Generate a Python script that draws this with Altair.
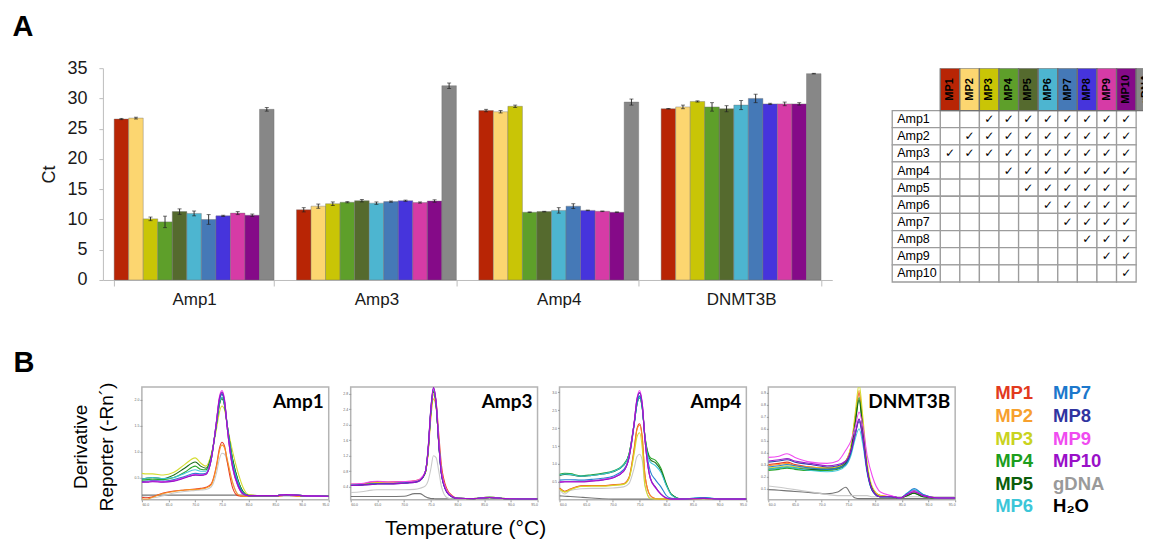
import altair as alt
import pandas as pd

# ---------------- Panel A : Ct bar chart ----------------
amplicons = ["Amp1", "Amp3", "Amp4", "DNMT3B"]
samples = ["MP1", "MP2", "MP3", "MP4", "MP5", "MP6", "MP7", "MP8", "MP9", "MP10", "gDNA"]
bar_colors = ["#B82505", "#FCD670", "#C9C506", "#5E9F2A", "#556A2E", "#4DB5D0",
              "#4579B7", "#4634DC", "#D63BA6", "#850A88", "#878787"]

ct_amp1 = [26.6, 26.75, 10.1, 9.6, 11.3, 11.0, 10.0, 10.6, 11.05, 10.7, 28.2]
err_amp1 = [0.1, 0.15, 0.3, 0.95, 0.45, 0.4, 0.8, 0.1, 0.25, 0.2, 0.3]
ct_amp3 = [11.6, 12.2, 12.6, 12.85, 13.1, 12.7, 12.95, 13.1, 12.8, 13.05, 32.1]
err_amp3 = [0.35, 0.35, 0.3, 0.1, 0.2, 0.2, 0.1, 0.1, 0.1, 0.2, 0.45]
ct_amp4 = [28.0, 27.8, 28.7, 11.2, 11.3, 11.5, 12.2, 11.5, 11.35, 11.2, 29.4]
err_amp4 = [0.2, 0.2, 0.2, 0.05, 0.05, 0.45, 0.4, 0.05, 0.05, 0.05, 0.5]
ct_dnmt3b = [28.3, 28.6, 29.5, 28.6, 28.3, 28.9, 30.0, 29.1, 29.1, 29.1, 34.1]
err_dnmt3b = [0.05, 0.3, 0.1, 0.7, 0.5, 0.75, 0.7, 0.1, 0.3, 0.2, 0.05]

# ---------------- Panel A : primer table ----------------
table_rows = ["Amp1", "Amp2", "Amp3", "Amp4", "Amp5", "Amp6", "Amp7", "Amp8", "Amp9", "Amp10"]
check_first = [3, 2, 1, 4, 5, 6, 7, 8, 9, 10]   # first MP pool containing each amplicon

# ---------------- Panel B : melt curves ----------------
melt_series = ["H2O", "gDNA", "MP1", "MP2", "MP3", "MP4", "MP5", "MP6", "MP7", "MP8", "MP9", "MP10"]
melt_colors = ["#6E6E6E", "#C6C6C6", "#E8341C", "#F79420", "#D2DA26", "#1FA21F", "#0B620B",
               "#3CC6D8", "#1E7BD0", "#2F3AA6", "#F040F0", "#9A10C8"]
temp_ticks = [60, 65, 70, 75, 80, 85, 90, 95]

t_amp1 = [60, 61, 62, 64, 66, 68, 70, 71, 72, 73, 74, 74.5, 75, 75.5, 76, 77, 78, 79, 80, 82, 85, 87, 90, 95]
amp1_h2o = [0.16, 0.16, 0.16, 0.16, 0.16, 0.16, 0.16, 0.16, 0.16, 0.16, 0.16, 0.16, 0.16, 0.16, 0.16, 0.16, 0.16, 0.16, 0.16, 0.15, 0.15, 0.15, 0.15, 0.15]
amp1_gdna = [0.13, 0.12, 0.11, 0.15, 0.20, 0.23, 0.25, 0.26, 0.27, 0.32, 0.60, 0.85, 0.97, 0.95, 0.80, 0.40, 0.18, 0.14, 0.14, 0.14, 0.14, 0.15, 0.14, 0.14]
amp1_mp1 = [0.12, 0.11, 0.13, 0.20, 0.24, 0.26, 0.28, 0.29, 0.31, 0.38, 0.75, 1.05, 1.18, 1.10, 0.80, 0.30, 0.15, 0.14, 0.14, 0.14, 0.14, 0.16, 0.14, 0.14]
amp1_mp2 = [0.09, 0.08, 0.12, 0.19, 0.23, 0.26, 0.27, 0.28, 0.30, 0.36, 0.72, 1.00, 1.13, 1.07, 0.85, 0.40, 0.17, 0.14, 0.14, 0.14, 0.14, 0.16, 0.14, 0.14]
amp1_mp3 = [0.58, 0.57, 0.57, 0.55, 0.60, 0.75, 0.88, 0.78, 0.72, 0.95, 1.45, 1.75, 1.88, 1.80, 1.50, 1.00, 0.60, 0.30, 0.17, 0.15, 0.15, 0.17, 0.15, 0.15]
amp1_mp4 = [0.45, 0.46, 0.47, 0.46, 0.50, 0.60, 0.72, 0.66, 0.65, 0.90, 1.55, 1.90, 2.05, 1.90, 1.50, 0.85, 0.45, 0.22, 0.15, 0.15, 0.15, 0.17, 0.15, 0.14]
amp1_mp5 = [0.47, 0.49, 0.50, 0.48, 0.55, 0.68, 0.80, 0.72, 0.68, 0.92, 1.55, 1.90, 2.02, 1.88, 1.50, 0.85, 0.45, 0.22, 0.15, 0.15, 0.15, 0.17, 0.15, 0.14]
amp1_mp6 = [0.47, 0.49, 0.50, 0.48, 0.50, 0.58, 0.65, 0.62, 0.62, 0.88, 1.55, 1.92, 2.05, 1.90, 1.50, 0.80, 0.42, 0.20, 0.15, 0.15, 0.15, 0.17, 0.15, 0.14]
amp1_mp7 = [0.42, 0.43, 0.44, 0.43, 0.46, 0.52, 0.58, 0.57, 0.58, 0.85, 1.60, 1.98, 2.10, 1.95, 1.50, 0.75, 0.38, 0.20, 0.15, 0.15, 0.15, 0.17, 0.15, 0.14]
amp1_mp8 = [0.42, 0.42, 0.43, 0.42, 0.44, 0.50, 0.55, 0.55, 0.57, 0.85, 1.60, 2.00, 2.12, 1.95, 1.45, 0.70, 0.35, 0.18, 0.15, 0.15, 0.15, 0.17, 0.15, 0.14]
amp1_mp9 = [0.41, 0.42, 0.43, 0.42, 0.44, 0.50, 0.56, 0.55, 0.57, 0.86, 1.62, 2.05, 2.18, 2.00, 1.45, 0.68, 0.33, 0.18, 0.15, 0.15, 0.15, 0.17, 0.15, 0.14]
amp1_mp10 = [0.41, 0.41, 0.42, 0.41, 0.43, 0.49, 0.55, 0.54, 0.56, 0.85, 1.60, 2.02, 2.15, 1.98, 1.45, 0.70, 0.34, 0.18, 0.15, 0.15, 0.15, 0.17, 0.15, 0.14]

t_amp3 = [60, 62, 64, 65, 67, 70, 72, 73, 74, 74.5, 75, 75.5, 76, 76.5, 77, 78, 79, 80, 83, 86, 89, 95]
amp3_h2o = [0.145, 0.145, 0.145, 0.145, 0.145, 0.15, 0.22, 0.22, 0.14, 0.11, 0.095, 0.09, 0.085, 0.085, 0.085, 0.085, 0.085, 0.085, 0.085, 0.085, 0.085, 0.085]
amp3_gdna = [0.25, 0.27, 0.31, 0.32, 0.32, 0.32, 0.33, 0.36, 0.42, 0.55, 0.85, 1.20, 1.15, 0.80, 0.40, 0.12, 0.08, 0.08, 0.08, 0.08, 0.08, 0.08]
amp3_mp1 = [0.46, 0.47, 0.52, 0.53, 0.52, 0.53, 0.55, 0.59, 0.78, 1.30, 2.30, 2.85, 2.60, 1.75, 0.95, 0.35, 0.17, 0.10, 0.09, 0.13, 0.09, 0.08]
amp3_mp2 = [0.45, 0.46, 0.50, 0.51, 0.50, 0.52, 0.54, 0.58, 0.76, 1.25, 2.15, 2.67, 2.45, 1.55, 0.80, 0.30, 0.15, 0.10, 0.09, 0.12, 0.09, 0.08]
amp3_mp3 = [0.46, 0.46, 0.49, 0.50, 0.50, 0.52, 0.54, 0.58, 0.78, 1.30, 2.25, 2.78, 2.50, 1.55, 0.78, 0.30, 0.15, 0.10, 0.09, 0.13, 0.09, 0.08]
amp3_mp4 = [0.44, 0.45, 0.47, 0.48, 0.48, 0.50, 0.52, 0.57, 0.78, 1.32, 2.30, 2.85, 2.52, 1.55, 0.76, 0.28, 0.14, 0.10, 0.09, 0.12, 0.09, 0.08]
amp3_mp5 = [0.44, 0.45, 0.47, 0.48, 0.48, 0.50, 0.52, 0.57, 0.78, 1.32, 2.32, 2.88, 2.52, 1.52, 0.74, 0.27, 0.14, 0.10, 0.09, 0.12, 0.09, 0.08]
amp3_mp6 = [0.45, 0.45, 0.47, 0.48, 0.48, 0.50, 0.52, 0.57, 0.79, 1.34, 2.33, 2.90, 2.55, 1.55, 0.75, 0.27, 0.14, 0.10, 0.09, 0.13, 0.09, 0.08]
amp3_mp7 = [0.44, 0.45, 0.47, 0.48, 0.48, 0.50, 0.52, 0.57, 0.79, 1.35, 2.35, 2.92, 2.55, 1.52, 0.73, 0.26, 0.14, 0.10, 0.09, 0.12, 0.09, 0.08]
amp3_mp8 = [0.43, 0.44, 0.46, 0.47, 0.47, 0.49, 0.51, 0.56, 0.80, 1.37, 2.38, 2.95, 2.55, 1.50, 0.72, 0.26, 0.14, 0.10, 0.09, 0.12, 0.09, 0.08]
amp3_mp9 = [0.47, 0.48, 0.53, 0.54, 0.52, 0.53, 0.55, 0.60, 0.80, 1.36, 2.36, 2.93, 2.60, 1.60, 0.80, 0.30, 0.15, 0.10, 0.09, 0.12, 0.09, 0.08]
amp3_mp10 = [0.43, 0.44, 0.46, 0.47, 0.47, 0.49, 0.51, 0.56, 0.80, 1.38, 2.40, 2.97, 2.58, 1.52, 0.72, 0.26, 0.14, 0.10, 0.09, 0.12, 0.09, 0.08]

t_amp4 = [60, 61, 62, 64, 66, 68, 70, 72, 73, 74, 74.5, 75, 75.5, 76, 77, 78, 79, 80, 81, 83, 87, 90, 95]
amp4_h2o = [0.11, 0.10, 0.09, 0.07, 0.05, 0.03, 0.02, 0.02, 0.02, 0.02, 0.02, 0.02, 0.02, 0.02, 0.02, 0.02, 0.02, 0.02, 0.02, 0.02, 0.02, 0.02, 0.02]
amp4_gdna = [0.28, 0.16, 0.26, 0.31, 0.32, 0.32, 0.33, 0.36, 0.45, 0.90, 1.20, 1.27, 1.10, 0.40, 0.05, 0.02, 0.02, 0.02, 0.02, 0.02, 0.02, 0.02, 0.02]
amp4_mp1 = [0.33, 0.24, 0.30, 0.39, 0.40, 0.40, 0.42, 0.45, 0.62, 1.45, 1.98, 2.12, 1.75, 0.70, 0.12, 0.03, 0.02, 0.02, 0.02, 0.02, 0.04, 0.02, 0.02]
amp4_mp2 = [0.32, 0.22, 0.29, 0.38, 0.39, 0.39, 0.41, 0.44, 0.60, 1.40, 1.95, 2.08, 1.72, 0.68, 0.12, 0.03, 0.02, 0.02, 0.02, 0.02, 0.04, 0.02, 0.02]
amp4_mp3 = [0.30, 0.22, 0.28, 0.37, 0.38, 0.38, 0.40, 0.43, 0.58, 1.30, 1.75, 1.87, 1.45, 0.40, 0.03, 0.02, 0.02, 0.02, 0.02, 0.02, 0.03, 0.02, 0.02]
amp4_mp4 = [0.71, 0.74, 0.73, 0.67, 0.70, 0.74, 0.80, 0.99, 1.27, 2.15, 2.65, 2.84, 2.55, 1.78, 1.18, 1.10, 0.88, 0.45, 0.15, 0.02, 0.05, 0.02, 0.02]
amp4_mp5 = [0.68, 0.71, 0.70, 0.65, 0.68, 0.72, 0.78, 0.96, 1.25, 2.15, 2.68, 2.88, 2.58, 1.78, 1.12, 1.03, 0.82, 0.42, 0.14, 0.02, 0.05, 0.02, 0.02]
amp4_mp6 = [0.69, 0.72, 0.71, 0.66, 0.68, 0.72, 0.79, 0.97, 1.24, 2.12, 2.65, 2.86, 2.56, 1.75, 1.05, 0.95, 0.76, 0.40, 0.13, 0.02, 0.06, 0.02, 0.02]
amp4_mp7 = [0.55, 0.56, 0.56, 0.55, 0.57, 0.60, 0.66, 0.84, 1.15, 2.10, 2.70, 2.90, 2.60, 1.72, 0.80, 0.55, 0.36, 0.12, 0.04, 0.02, 0.06, 0.02, 0.02]
amp4_mp8 = [0.50, 0.51, 0.51, 0.51, 0.53, 0.56, 0.62, 0.80, 1.18, 2.15, 2.78, 2.98, 2.65, 1.70, 0.62, 0.35, 0.16, 0.05, 0.02, 0.02, 0.04, 0.02, 0.02]
amp4_mp9 = [0.50, 0.51, 0.51, 0.51, 0.53, 0.56, 0.62, 0.80, 1.18, 2.18, 2.82, 3.05, 2.70, 1.72, 0.60, 0.33, 0.15, 0.05, 0.02, 0.02, 0.04, 0.02, 0.02]
amp4_mp10 = [0.49, 0.50, 0.50, 0.50, 0.52, 0.55, 0.61, 0.79, 1.17, 2.16, 2.80, 3.00, 2.68, 1.70, 0.60, 0.34, 0.16, 0.05, 0.02, 0.02, 0.04, 0.02, 0.02]

t_dnmt = [60, 62, 63.5, 65, 68, 71, 73, 74.5, 75.5, 76.3, 77, 77.7, 78.5, 79.5, 81, 83, 84.7, 86, 87.3, 89, 92, 95]
dnmt_h2o = [0.09, 0.085, 0.08, 0.075, 0.065, 0.055, 0.07, 0.11, 0.05, 0.02, 0.015, 0.015, 0.015, 0.015, 0.015, 0.015, 0.015, 0.015, 0.015, 0.015, 0.015, 0.015]
dnmt_gdna = [0.12, 0.11, 0.10, 0.09, 0.07, 0.05, 0.04, 0.04, 0.04, 0.04, 0.04, 0.04, 0.04, 0.03, 0.03, 0.03, 0.03, 0.03, 0.03, 0.03, 0.03, 0.03]
dnmt_mp1 = [0.30, 0.31, 0.32, 0.30, 0.28, 0.27, 0.28, 0.33, 0.45, 0.70, 0.90, 0.62, 0.28, 0.10, 0.04, 0.03, 0.02, 0.05, 0.08, 0.04, 0.02, 0.02]
dnmt_mp2 = [0.29, 0.30, 0.31, 0.29, 0.28, 0.27, 0.28, 0.32, 0.44, 0.70, 0.92, 0.65, 0.29, 0.10, 0.04, 0.03, 0.02, 0.05, 0.07, 0.04, 0.02, 0.02]
dnmt_mp3 = [0.27, 0.28, 0.29, 0.28, 0.27, 0.27, 0.28, 0.33, 0.46, 0.74, 0.97, 0.70, 0.32, 0.11, 0.04, 0.03, 0.02, 0.04, 0.07, 0.04, 0.02, 0.02]
dnmt_mp4 = [0.25, 0.26, 0.27, 0.26, 0.25, 0.25, 0.26, 0.30, 0.42, 0.66, 0.86, 0.60, 0.27, 0.09, 0.03, 0.03, 0.02, 0.04, 0.06, 0.03, 0.02, 0.02]
dnmt_mp5 = [0.26, 0.27, 0.28, 0.27, 0.26, 0.26, 0.27, 0.31, 0.42, 0.65, 0.84, 0.58, 0.26, 0.09, 0.03, 0.03, 0.02, 0.04, 0.06, 0.03, 0.02, 0.02]
dnmt_mp6 = [0.26, 0.27, 0.28, 0.27, 0.25, 0.24, 0.25, 0.29, 0.38, 0.52, 0.60, 0.47, 0.23, 0.08, 0.03, 0.03, 0.02, 0.06, 0.09, 0.05, 0.02, 0.02]
dnmt_mp7 = [0.28, 0.29, 0.30, 0.29, 0.27, 0.26, 0.27, 0.30, 0.40, 0.56, 0.68, 0.52, 0.25, 0.08, 0.03, 0.03, 0.02, 0.06, 0.10, 0.05, 0.02, 0.02]
dnmt_mp8 = [0.32, 0.33, 0.34, 0.32, 0.30, 0.28, 0.29, 0.32, 0.41, 0.56, 0.66, 0.52, 0.25, 0.08, 0.03, 0.03, 0.02, 0.05, 0.08, 0.04, 0.02, 0.02]
dnmt_mp9 = [0.36, 0.37, 0.39, 0.36, 0.32, 0.31, 0.33, 0.42, 0.50, 0.62, 0.74, 0.62, 0.38, 0.20, 0.07, 0.04, 0.02, 0.05, 0.08, 0.04, 0.02, 0.02]
dnmt_mp10 = [0.33, 0.34, 0.35, 0.33, 0.31, 0.29, 0.30, 0.33, 0.42, 0.56, 0.68, 0.54, 0.26, 0.09, 0.03, 0.03, 0.02, 0.05, 0.07, 0.04, 0.02, 0.02]

legend_labels = ["MP1", "MP2", "MP3", "MP4", "MP5", "MP6", "MP7", "MP8", "MP9", "MP10", "gDNA", "H₂O"]
legend_colors = ["#E23A1E", "#F7A02E", "#C9D320", "#1D9E1D", "#0B5E0B", "#3CC6D8",
                 "#1C78CC", "#3034A0", "#F04CF0", "#9A10C8", "#9A9A9A", "#000000"]

FONT = "Liberation Sans"

# ======================= Panel A bar chart =======================
bar_color_of = dict(zip(samples, bar_colors))
bar_rows = []
for amp, cts, errs in zip(amplicons, [ct_amp1, ct_amp3, ct_amp4, ct_dnmt3b],
                          [err_amp1, err_amp3, err_amp4, err_dnmt3b]):
    for s, c, e in zip(samples, cts, errs):
        bar_rows.append({"amp": amp, "s": s, "ct": c, "lo": c - e, "hi": c + e, "col": bar_color_of[s]})
bar_df = pd.DataFrame(bar_rows)

ysc = alt.Scale(domain=[0, 35], nice=False)
xsc = alt.Scale(paddingInner=0.123, paddingOuter=0.0616)
xo = alt.XOffset("s:N", sort=samples, scale=alt.Scale(paddingInner=0, paddingOuter=0))
x_axis = alt.Axis(title=None, labelAngle=0, tickBand="extent", labelFontSize=17,
                  labelFont=FONT, labelColor="#1a1a1a", tickSize=6, tickColor="#BDBDBD",
                  domainColor="#BDBDBD", labelPadding=6)
y_axis = alt.Axis(title="Ct", values=list(range(0, 36, 5)), grid=False, labelFontSize=18,
                  labelFont=FONT, labelColor="#1a1a1a", tickSize=4, tickColor="#BDBDBD",
                  domainColor="#BDBDBD", labelPadding=12, titleFont=FONT, titleFontSize=18,
                  titleFontWeight="normal", titleColor="#1a1a1a", titlePadding=8)
X = alt.X("amp:N", sort=amplicons, scale=xsc, axis=x_axis)

bars = alt.Chart(bar_df).mark_bar(stroke="#707070", strokeWidth=0.4).encode(
    x=X, xOffset=xo,
    y=alt.Y("ct:Q", scale=ysc, axis=y_axis),
    color=alt.Color("col:N", scale=None),
)
err_rule = alt.Chart(bar_df).mark_rule(color="#222", strokeWidth=0.9).encode(
    x=X, xOffset=xo, y=alt.Y("lo:Q", scale=ysc, axis=y_axis), y2="hi:Q")
cap_lo = alt.Chart(bar_df).mark_tick(color="#222", size=4, thickness=0.9).encode(
    x=X, xOffset=xo, y=alt.Y("lo:Q", scale=ysc, axis=y_axis))
cap_hi = alt.Chart(bar_df).mark_tick(color="#222", size=4, thickness=0.9).encode(
    x=X, xOffset=xo, y=alt.Y("hi:Q", scale=ysc, axis=y_axis))
letter_a = alt.Chart(pd.DataFrame({"t": ["A"]})).mark_text(
    font=FONT, fontSize=29, fontWeight="bold", align="center", baseline="middle", color="black"
).encode(text="t:N", x=alt.value(-80), y=alt.value(-41))

bar_chart = alt.layer(bars, err_rule, cap_lo, cap_hi, letter_a).properties(width=730, height=212)

# ======================= Panel A table =======================
LABEL_W = 2.45
HEADER_H = 2.47
mp_pools = samples[:10]
cell_rows, label_rows = [], []
for r, amp in enumerate(table_rows):
    label_rows.append({"x0": -LABEL_W, "x1": 0, "y0": r, "y1": r + 1, "ym": r + 0.5, "label": amp})
    for c, mp in enumerate(mp_pools):
        cell_rows.append({"x0": c, "x1": c + 1, "y0": r, "y1": r + 1, "xm": c + 0.5, "ym": r + 0.5,
                          "check": "✓" if c + 1 >= check_first[r] else ""})
head_rows = [{"x0": c, "x1": c + 1, "y0": -HEADER_H, "y1": 0, "xm": c + 0.5, "ym": -HEADER_H / 2,
              "mp": mp, "col": bar_color_of[mp]} for c, mp in enumerate(samples)]
cells_df = pd.DataFrame(cell_rows + label_rows)
label_df = pd.DataFrame(label_rows)
head_df = pd.DataFrame(head_rows)

tx = alt.Scale(domain=[-LABEL_W, 10.35], nice=False, zero=False)
ty = alt.Scale(domain=[-HEADER_H, 10], nice=False, zero=False, reverse=True)

t_cells = alt.Chart(cells_df).mark_rect(fill="white", stroke="#9C9C9C", strokeWidth=1.3).encode(
    x=alt.X("x0:Q", scale=tx, axis=None), x2="x1:Q",
    y=alt.Y("y0:Q", scale=ty, axis=None), y2="y1:Q")
t_head = alt.Chart(head_df).mark_rect(stroke="#707070", strokeWidth=1.3, clip=True).encode(
    x=alt.X("x0:Q", scale=tx, axis=None), x2="x1:Q",
    y=alt.Y("y0:Q", scale=ty, axis=None), y2="y1:Q",
    color=alt.Color("col:N", scale=None))
t_head_txt = alt.Chart(head_df).mark_text(angle=270, font=FONT, fontWeight="bold", fontSize=11,
                                          color="black", clip=True).encode(
    x=alt.X("xm:Q", scale=tx, axis=None), y=alt.Y("ym:Q", scale=ty, axis=None), text="mp:N")
t_labels = alt.Chart(label_df).mark_text(align="left", dx=5, font=FONT, fontSize=12.5, color="black").encode(
    x=alt.X("x0:Q", scale=tx, axis=None), y=alt.Y("ym:Q", scale=ty, axis=None), text="label:N")
t_checks = alt.Chart(pd.DataFrame(cell_rows)).mark_text(font="DejaVu Sans", fontSize=12, color="black").encode(
    x=alt.X("xm:Q", scale=tx, axis=None), y=alt.Y("ym:Q", scale=ty, axis=None), text="check:N")

table_chart = alt.layer(t_cells, t_head, t_head_txt, t_labels, t_checks).properties(width=251, height=214)

# ======================= Panel B melt curves =======================
MW, MH = 187, 113
melt_color_of = dict(zip(melt_series, melt_colors))


def melt_chart(grid, curves, title, ydom, yticks, extra=None):
    rows = [{"T": t, "v": v, "s": name, "col": melt_color_of[name]}
            for name, vals in curves for t, v in zip(grid, vals)]
    df = pd.DataFrame(rows)
    lines = alt.Chart(df).mark_line(strokeWidth=1.1, interpolate="monotone", clip=True, opacity=0.95).encode(
        x=alt.X("T:Q", scale=alt.Scale(domain=[60, 95], nice=False, zero=False),
                axis=alt.Axis(values=temp_ticks, format=".1f", title=None, labelFontSize=3.5, tickSize=2,
                              domain=False, grid=False, labelPadding=1, labelColor="#666", tickColor="#999")),
        y=alt.Y("v:Q", scale=alt.Scale(domain=ydom, nice=False, zero=False),
                axis=alt.Axis(values=yticks, format=".1f", title=None, labelFontSize=3.5, tickSize=2,
                              domain=False, grid=False, labelPadding=1, labelColor="#666", tickColor="#999")),
        color=alt.Color("col:N", scale=None),
        detail="s:N",
    )
    label = alt.Chart(pd.DataFrame({"t": [title]})).mark_text(
        align="right", baseline="middle", font="Lato", fontWeight="bold", fontSize=19, color="black"
    ).encode(text="t:N", x=alt.value(MW - 5), y=alt.value(15))
    layers = [lines, label] + ([extra] if extra is not None else [])
    return alt.layer(*layers).properties(width=MW, height=MH,
                                         view=alt.ViewBackground(stroke="#B4B4B4", strokeWidth=1.5))


temp_label = alt.Chart(pd.DataFrame({"t": ["Temperature (°C)"]})).mark_text(
    font=FONT, fontSize=21, align="center", baseline="middle", color="black"
).encode(text="t:N", x=alt.value(115), y=alt.value(142))

m1 = melt_chart(t_amp1, [("H2O", amp1_h2o), ("gDNA", amp1_gdna), ("MP1", amp1_mp1), ("MP2", amp1_mp2),
                         ("MP3", amp1_mp3), ("MP4", amp1_mp4), ("MP5", amp1_mp5), ("MP6", amp1_mp6),
                         ("MP7", amp1_mp7), ("MP8", amp1_mp8), ("MP9", amp1_mp9), ("MP10", amp1_mp10)],
                "Amp1", [0.07, 2.25], [0.5, 1.0, 1.5, 2.0])
m2 = melt_chart(t_amp3, [("H2O", amp3_h2o), ("gDNA", amp3_gdna), ("MP1", amp3_mp1), ("MP2", amp3_mp2),
                         ("MP3", amp3_mp3), ("MP4", amp3_mp4), ("MP5", amp3_mp5), ("MP6", amp3_mp6),
                         ("MP7", amp3_mp7), ("MP8", amp3_mp8), ("MP9", amp3_mp9), ("MP10", amp3_mp10)],
                "Amp3", [0.06, 2.98], [0.4, 0.8, 1.2, 1.6, 2.0, 2.4, 2.8], extra=temp_label)
m3 = melt_chart(t_amp4, [("H2O", amp4_h2o), ("gDNA", amp4_gdna), ("MP1", amp4_mp1), ("MP2", amp4_mp2),
                         ("MP3", amp4_mp3), ("MP4", amp4_mp4), ("MP5", amp4_mp5), ("MP6", amp4_mp6),
                         ("MP7", amp4_mp7), ("MP8", amp4_mp8), ("MP9", amp4_mp9), ("MP10", amp4_mp10)],
                "Amp4", [0.0, 3.15], [0.5, 1.0, 1.5, 2.0, 2.5, 3.0])
m4 = melt_chart(t_dnmt, [("H2O", dnmt_h2o), ("gDNA", dnmt_gdna), ("MP1", dnmt_mp1), ("MP2", dnmt_mp2),
                         ("MP3", dnmt_mp3), ("MP4", dnmt_mp4), ("MP5", dnmt_mp5), ("MP6", dnmt_mp6),
                         ("MP7", dnmt_mp7), ("MP8", dnmt_mp8), ("MP9", dnmt_mp9), ("MP10", dnmt_mp10)],
                "DNMT3B", [0.005, 0.95], [0.1, 0.2, 0.3, 0.4, 0.5, 0.6, 0.7, 0.8, 0.9])

letter_b = alt.Chart(pd.DataFrame({"t": ["B"]})).mark_text(
    font=FONT, fontSize=29, fontWeight="bold", align="center", baseline="middle", color="black"
).encode(text="t:N", x=alt.value(-79), y=alt.value(-24))
ylab = alt.Chart(pd.DataFrame({"t": ["y"]})).mark_text(
    font=FONT, fontSize=19, angle=270, align="center", baseline="middle", color="black", lineHeight=26,
    text=["Derivative", "Reporter (-Rn´)"]
).encode(x=alt.value(-22), y=alt.value(60))
left_text = alt.layer(letter_b, ylab).properties(width=17, height=MH)

legend_rows = [{"label": lab, "col": i // 6, "row": i % 6, "c": colr}
               for i, (lab, colr) in enumerate(zip(legend_labels, legend_colors))]
ldf = pd.DataFrame(legend_rows)
legend_chart = alt.Chart(ldf).mark_text(align="left", baseline="middle", font=FONT, fontWeight="bold",
                                        fontSize=18.5).encode(
    x=alt.X("col:Q", scale=alt.Scale(domain=[0, 1], range=[18, 76]), axis=None),
    y=alt.Y("row:Q", scale=alt.Scale(domain=[0, 5], range=[6.5, 119.7]), axis=None),
    color=alt.Color("c:N", scale=None),
    text="label:N",
).properties(width=150, height=MH)

top = alt.hconcat(bar_chart, table_chart, spacing=60, bounds="flush")
bottom = alt.hconcat(left_text, m1, m2, m3, m4, legend_chart, spacing=22, bounds="flush")
chart = alt.vconcat(top, bottom, spacing=319, bounds="flush").properties(
    padding={"left": 4, "top": 5, "right": 0, "bottom": 0}
).configure_view(strokeWidth=0)

chart.save("out.html", embed_options={"renderer": "svg", "actions": False})
